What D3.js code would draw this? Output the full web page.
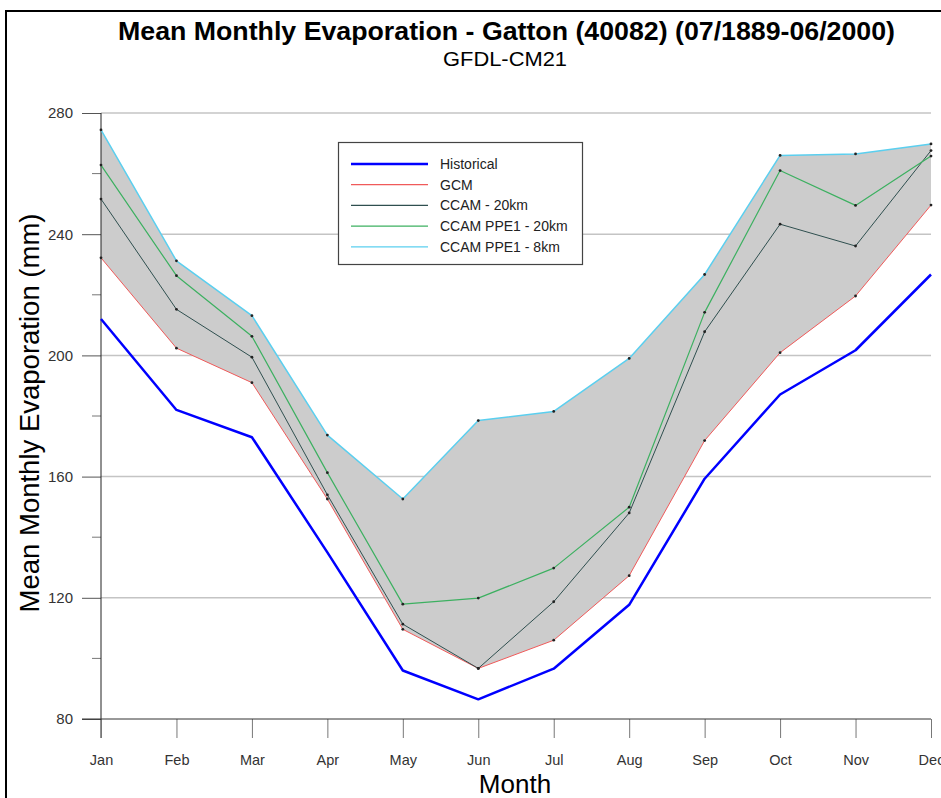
<!DOCTYPE html>
<html><head><meta charset="utf-8">
<script src="https://cdn.jsdelivr.net/npm/d3@7"></script>
<style>body{margin:0;background:#fff;}svg{display:block;font-family:"Liberation Sans",Arial,sans-serif;}</style>
</head><body><svg id="c" width="941" height="798"></svg>
<script>
const months = ["Jan","Feb","Mar","Apr","May","Jun","Jul","Aug","Sep","Oct","Nov","Dec"];
const historical = [212, 182, 173, 135, 96, 86.5, 96.6, 117.7, 159.3, 187.1, 201.7, 226.7];
const gcm        = [232.2, 202.4, 191, 152.6, 109.6, 96.7, 106, 127.3, 171.9, 200.9, 219.6, 249.6];
const ccam20     = [251.6, 215.2, 199.4, 154, 111.3, 96.7, 118.7, 148, 207.8, 243.3, 236.1, 267.6];
const ppe20      = [262.8, 226.3, 206.3, 161.3, 117.9, 119.9, 129.8, 149.9, 214.2, 261, 249.5, 265.8];
const ppe8       = [274.4, 231.2, 213.1, 173.7, 152.6, 178.5, 181.5, 199, 226.7, 266, 266.5, 269.8];
const yMajorTicks = [80, 120, 160, 200, 240, 280];
const yMinorTicks = [100, 140, 180, 220, 260];
const seriesNames = ["Historical","GCM","CCAM - 20km","CCAM PPE1 - 20km","CCAM PPE1 - 8km"];
const seriesColors = ["#0000ff","#f05a5a","#2f4f4f","#3cb060","#5bcfef"];
const seriesWidths = [2.5,1,1,1.2,1.5];

const svg = d3.select("#c");
const x = d3.scalePoint().domain(months).range([101, 931]);
const y = d3.scaleLinear().domain([80, 280]).range([719, 113]);

// frame
svg.append("path").attr("d","M6,800 L6,11 L945,11").attr("fill","none").attr("stroke","#000").attr("stroke-width",2);

// title
svg.append("text").attr("x",506.5).attr("y",40).attr("text-anchor","middle")
  .attr("font-size",25).attr("font-weight","bold")
  .attr("textLength",777).attr("lengthAdjust","spacingAndGlyphs")
  .text("Mean Monthly Evaporation - Gatton (40082) (07/1889-06/2000)");
svg.append("text").attr("x",505).attr("y",66).attr("text-anchor","middle")
  .attr("font-size",21).attr("textLength",124).attr("lengthAdjust","spacingAndGlyphs").text("GFDL-CM21");

// gridlines
svg.append("g").selectAll("line").data(yMajorTicks.filter(d=>d>80)).join("line")
  .attr("x1",101).attr("x2",931).attr("y1",d=>y(d)).attr("y2",d=>y(d))
  .attr("stroke","#c4c4c4").attr("stroke-width",1.5);

// band
const models = [gcm, ccam20, ppe20, ppe8];
const band = months.map((m,i)=>({m, lo:d3.min(models,s=>s[i]), hi:d3.max(models,s=>s[i])}));
svg.append("path").datum(band)
  .attr("d", d3.area().x(d=>x(d.m)).y0(d=>y(d.lo)).y1(d=>y(d.hi)))
  .attr("fill","#cccccc");

// axes
const yAxis = d3.axisLeft(y).tickValues(yMajorTicks).tickSize(19).tickPadding(9).tickFormat(d3.format("d"));
const gy = svg.append("g").attr("transform","translate(101,0)").call(yAxis);
gy.select(".domain").remove();
gy.selectAll(".tick line").attr("stroke","#555");
gy.selectAll(".tick text").attr("font-size",15).attr("fill","#333").attr("font-family","Liberation Sans, Arial");
svg.append("g").selectAll("line").data(yMinorTicks).join("line")
  .attr("x1",92).attr("x2",101).attr("y1",d=>y(d)).attr("y2",d=>y(d)).attr("stroke","#777");
svg.append("line").attr("x1",101).attr("x2",101).attr("y1",113).attr("y2",738).attr("stroke","#222");

const xAxis = d3.axisBottom(x).tickSize(19).tickPadding(17);
const gx = svg.append("g").attr("transform","translate(0,719)").call(xAxis);
gx.select(".domain").remove();
gx.selectAll(".tick line").attr("stroke","#777");
gx.selectAll(".tick text").attr("font-size",14.5).attr("fill","#333").attr("font-family","Liberation Sans, Arial");
svg.append("line").attr("x1",82).attr("x2",931).attr("y1",719).attr("y2",719).attr("stroke","#333");

// axis titles
svg.append("text").attr("transform","translate(39,413) rotate(-90)").attr("text-anchor","middle")
  .attr("font-size",27.5).text("Mean Monthly Evaporation (mm)");
svg.append("text").attr("x",515).attr("y",793).attr("text-anchor","middle").attr("font-size",26).text("Month");

// lines
const line = d3.line().x((d,i)=>x(months[i])).y(d=>y(d));
const all = [historical, gcm, ccam20, ppe20, ppe8];
all.forEach((s,k)=>{
  svg.append("path").datum(s).attr("d",line).attr("fill","none")
    .attr("stroke",seriesColors[k]).attr("stroke-width",seriesWidths[k]).attr("stroke-linejoin","round");
});
all.slice(1).forEach(s=>{
  svg.append("g").selectAll("circle").data(s).join("circle")
    .attr("cx",(d,i)=>x(months[i])).attr("cy",d=>y(d)).attr("r",1.4).attr("fill","#222");
});

// legend
const lg = svg.append("g");
lg.append("rect").attr("x",338.5).attr("y",142.5).attr("width",244).attr("height",122)
  .attr("fill","#fff").attr("stroke","#444").attr("stroke-width",1.2);
seriesNames.forEach((n,k)=>{
  const yy = 164 + k*20.7;
  lg.append("line").attr("x1",351).attr("x2",428).attr("y1",yy).attr("y2",yy)
    .attr("stroke",seriesColors[k]).attr("stroke-width",k===0?2.5:1.2);
  lg.append("text").attr("x",440).attr("y",yy+5).attr("font-size",14).attr("fill","#222").text(n);
});
</script></body></html>
